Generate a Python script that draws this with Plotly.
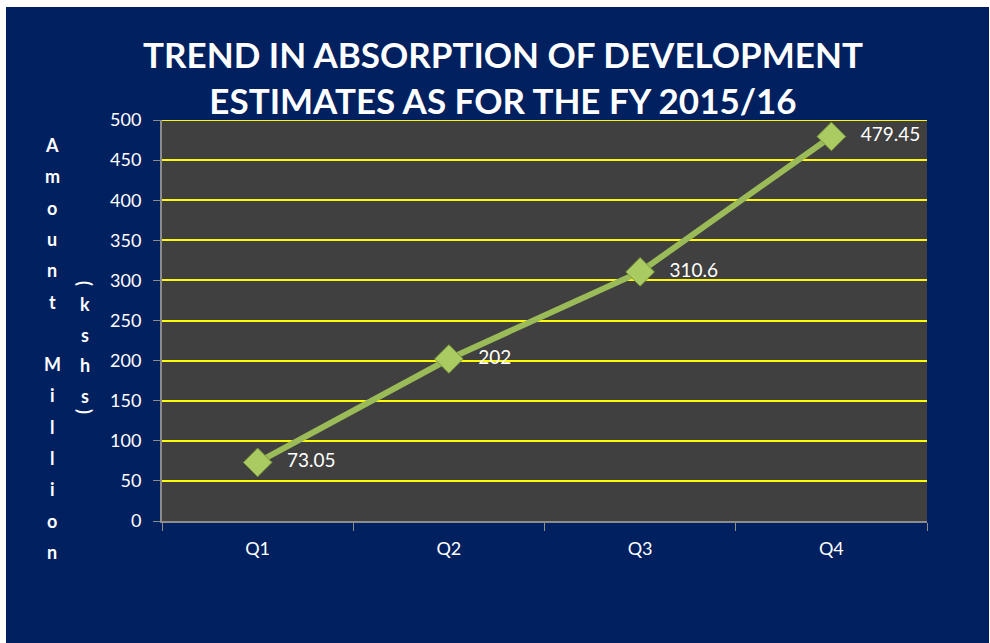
import plotly.graph_objects as go

# Quarterly absorption of development estimates, FY 2015/16 (KShs million)
quarters = ["Q1", "Q2", "Q3", "Q4"]
absorption = [73.05, 202, 310.6, 479.45]
label_text = ["73.05", "202", "310.6", "479.45"]
y_ticks = [0, 50, 100, 150, 200, 250, 300, 350, 400, 450, 500]

# Vertical axis title, one character per line
title_col1 = list("Amount") + [""] + list("Million")
title_col2 = list("kshs")

W, H = 990, 643
PL, PR, PT, PB = 162, 927, 120, 521  # plot box in pixels

NAVY = "#002060"
PLOT_BG = "#404040"
GREEN = "#9BBB59"
FONT = "Lato, 'Open Sans', sans-serif"


def px_x(p):
    return (p - PL) / (PR - PL)


def px_y(p):
    return (PB - p) / (PB - PT)


fig = go.Figure()

fig.add_trace(go.Scatter(
    x=quarters,
    y=absorption,
    mode="lines+markers+text",
    line=dict(color=GREEN, width=6),
    marker=dict(symbol="diamond", size=22, color="#A9CB62",
                line=dict(color="#7C9A3C", width=1)),
    text=label_text,
    texttemplate="\u00a0\u00a0\u00a0%{text}",
    textposition="middle right",
    textfont=dict(family=FONT, size=19, color="white"),
    cliponaxis=False,
    hoverinfo="x+y",
    showlegend=False,
))

annotations = []
# title column: "Amount Million"
for i, ch in enumerate(title_col1):
    if ch:
        annotations.append(dict(
            text=f"<b>{ch}</b>", x=px_x(52), y=px_y(145 + i * 31.3),
            xref="paper", yref="paper", showarrow=False,
            xanchor="center", yanchor="middle",
            font=dict(family=FONT, size=18, color="white")))
# title column: "(kshs)" with sideways parentheses
annotations.append(dict(
    text="<b>(</b>", x=px_x(85), y=px_y(283), xref="paper", yref="paper",
    showarrow=False, textangle=90, xanchor="center", yanchor="middle",
    font=dict(family=FONT, size=18, color="white")))
for i, ch in enumerate(title_col2):
    annotations.append(dict(
        text=f"<b>{ch}</b>", x=px_x(85), y=px_y(304 + i * 30.5),
        xref="paper", yref="paper", showarrow=False,
        xanchor="center", yanchor="middle",
        font=dict(family=FONT, size=18, color="white")))
annotations.append(dict(
    text="<b>)</b>", x=px_x(85), y=px_y(411), xref="paper", yref="paper",
    showarrow=False, textangle=90, xanchor="center", yanchor="middle",
    font=dict(family=FONT, size=18, color="white")))

fig.update_layout(
    width=W, height=H,
    margin=dict(l=PL, r=W - PR, t=PT, b=H - PB),
    paper_bgcolor="white",
    plot_bgcolor=PLOT_BG,
    title=dict(
        text="<b>TREND IN ABSORPTION OF DEVELOPMENT<br>ESTIMATES AS FOR THE FY 2015/16</b>",
        x=503 / W, xref="container", xanchor="center",
        y=1 - 68 / H, yref="container", yanchor="middle",
        font=dict(family=FONT, size=35, color="white"),
    ),
    shapes=[
        # navy panel behind the whole chart
        dict(type="rect", xref="paper", yref="paper", layer="below",
             x0=px_x(6), x1=px_x(989), y0=px_y(643), y1=px_y(7),
             fillcolor=NAVY, line=dict(width=0)),
        # dark grey plot area on top of the panel
        dict(type="rect", xref="paper", yref="paper", layer="below",
             x0=0, x1=1, y0=0, y1=1,
             fillcolor=PLOT_BG, line=dict(width=0)),
        # top gridline sits on the plot edge, draw it explicitly
        dict(type="line", xref="paper", yref="y", layer="above",
             x0=0, x1=1, y0=y_ticks[-1], y1=y_ticks[-1],
             line=dict(color="#FFFF00", width=2)),
    ],
    annotations=annotations,
    xaxis=dict(
        type="category",
        range=[-0.5, 3.5],
        showgrid=False,
        showline=True, linecolor="#8C8C8C", linewidth=2,
        ticks="outside", ticklen=8, tickcolor="#8C8C8C", tickwidth=1,
        tickson="boundaries",
        ticklabelstandoff=10,
        tickfont=dict(family=FONT, size=18, color="white"),
        zeroline=False,
    ),
    yaxis=dict(
        range=[0, 500],
        tickvals=y_ticks,
        showgrid=True, gridcolor="#FFFF00", gridwidth=2,
        showline=True, linecolor="#8C8C8C", linewidth=2,
        ticks="outside", ticklen=7, tickcolor="#8C8C8C",
        ticklabelstandoff=8,
        tickfont=dict(family=FONT, size=18, color="white"),
        zeroline=False,
    ),
)

fig.write_html("out.html")
